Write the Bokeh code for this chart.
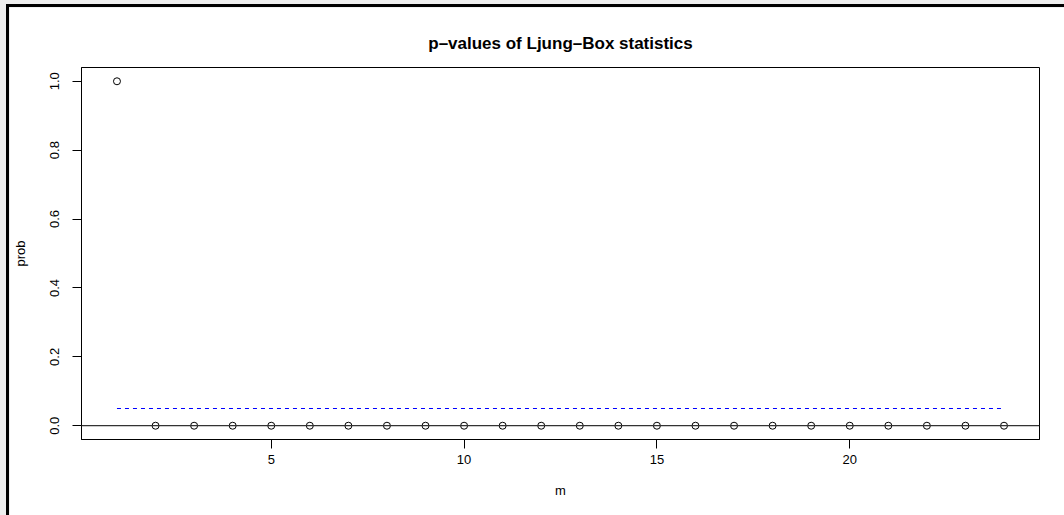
from bokeh.plotting import figure
from bokeh.models import Range1d, FixedTicker, Span
from bokeh.layouts import column
from bokeh.embed import file_html
from bokeh.resources import INLINE

# ---- data ----
m = list(range(1, 25))
prob = [1.0] + [0.0] * 23
alpha_level = 0.05
x_ticks = [5, 10, 15, 20]
y_ticks = [0.0, 0.2, 0.4, 0.6, 0.8, 1.0]
y_tick_labels = ["0.0", "0.2", "0.4", "0.6", "0.8", "1.0"]
title_text = "p\u2013values of Ljung\u2013Box statistics"
x_label = "m"
y_label = "prob"

FONT = "Liberation Sans"

xpad = (m[-1] - m[0]) * 0.04
ypad = (max(prob) - min(prob)) * 0.04

p = figure(
    width=1058, height=511,
    x_range=Range1d(m[0] - xpad, m[-1] + xpad),
    y_range=Range1d(min(prob) - ypad, max(prob) + ypad),
    output_backend="svg", toolbar_location=None,
    min_border_left=72, min_border_right=28, min_border_top=60, min_border_bottom=79,
    background_fill_color="white", border_fill_color="white",
)
p.styles = {"border-left": "3px solid black", "border-top": "3px solid black"}
p.margin = (4, 0, 0, 6)

p.title.text = title_text
p.title.text_font = FONT
p.title.text_font_size = "17px"
p.title.text_font_style = "bold"
p.title.text_color = "black"
p.title.align = "center"
p.title.vertical_align = "top"
p.title.standoff = 25

p.xgrid.visible = False
p.ygrid.visible = False
p.outline_line_color = "black"
p.outline_line_width = 1

for ax in (p.xaxis[0], p.yaxis[0]):
    ax.axis_line_color = "black"
    ax.major_tick_line_color = "black"
    ax.major_tick_out = 9
    ax.major_tick_in = 0
    ax.minor_tick_line_color = None
    ax.major_label_text_font = FONT
    ax.major_label_text_font_size = "13px"
    ax.major_label_text_color = "black"
    ax.axis_label_text_font = FONT
    ax.axis_label_text_font_size = "13px"
    ax.axis_label_text_font_style = "normal"
    ax.axis_label_text_color = "black"

p.xaxis.ticker = FixedTicker(ticks=x_ticks)
p.xaxis.axis_label = x_label
p.xaxis.major_label_standoff = 6
p.xaxis.axis_label_standoff = 16

p.yaxis.ticker = FixedTicker(ticks=y_ticks)
p.yaxis.major_label_overrides = {t: l for t, l in zip(y_ticks, y_tick_labels)}
p.yaxis.major_label_orientation = "vertical"
p.yaxis.axis_label = y_label
p.yaxis.major_label_standoff = 13
p.yaxis.axis_label_standoff = 20

# horizontal reference line at 0
p.add_layout(Span(location=0, dimension="width", line_color="#333333", line_width=1.2))

# significance level dashed line
p.line(x=[m[0], m[-1]], y=[alpha_level, alpha_level], line_color="blue",
       line_dash="4 4", line_width=1)

# points
p.scatter(x=m, y=prob, marker="circle", size=7, fill_color=None,
          line_color="black", line_width=1)

layout = column(p, width=1064, height=515, styles={"background-color": "#eeeeee"})

open("out.html", "w").write(file_html(layout, INLINE))
